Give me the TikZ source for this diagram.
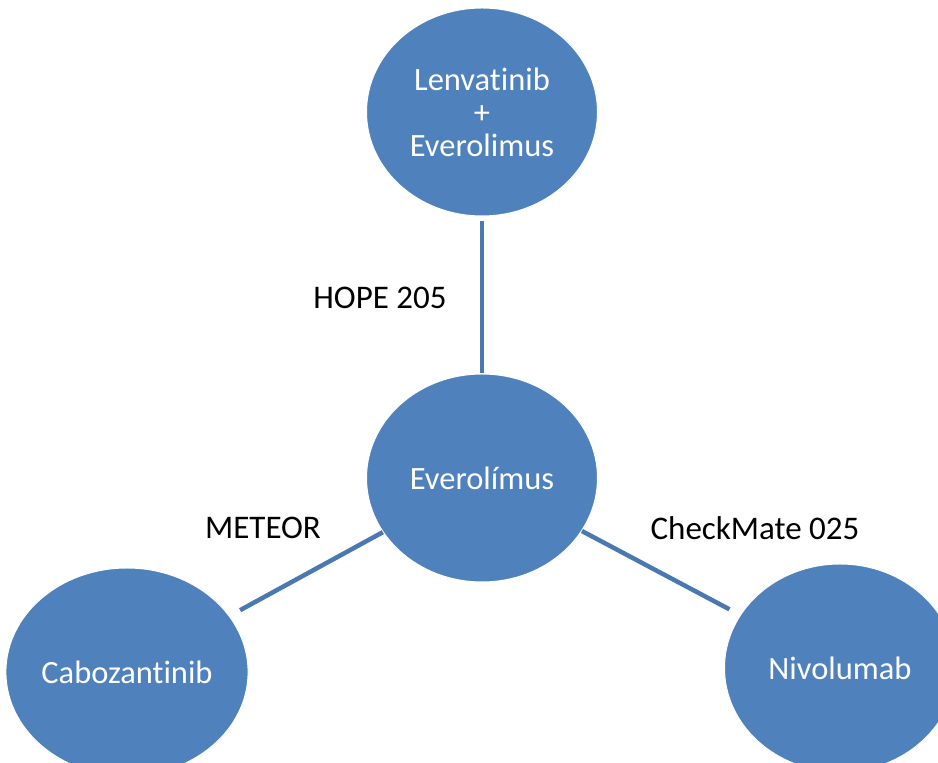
\documentclass[tikz,border=0pt]{standalone}
\usepackage{fontspec}
\setmainfont{Carlito}[Ligatures=NoCommon]
\usetikzlibrary{shapes.geometric}
\definecolor{drugblue}{HTML}{4F81BD}
\definecolor{linkblue}{HTML}{4A78B0}
\tikzset{
  drug/.style={ellipse, fill=drugblue, draw=white, line width=1pt, minimum width=231pt, minimum height=208pt, inner sep=0pt, text=white, font=\fontsize{32.5}{33}\selectfont, align=center},
  trial/.style={text=black, font=\fontsize{33}{36}\selectfont, inner sep=0pt},
  link/.style={draw=linkblue, line width=4.5pt}
}
\begin{document}
\begin{tikzpicture}[x=1pt,y=1pt]
\useasboundingbox (0,0) rectangle (938,763);
\node[drug] (top) at (482,651) {Lenvatinib\\+\\Everolimus};
\node[drug] (mid) at (482,285) {Everolímus};
\node[drug] (left) at (127,91) {Cabozantinib};
\node[drug] (right) at (840,95) {Nivolumab};
\draw[link, shorten <=5pt] (top) -- (mid);
\draw[link, shorten >=12pt] (mid) -- (left);
\draw[link, shorten >=12pt] (mid) -- (right);
\node[trial] (hope) at (380,465) {HOPE 205};
\node[trial] (meteor) at (263,235) {METEOR};
\node[trial] (check) at (755,235) {CheckMate 025};
\end{tikzpicture}
\end{document}
